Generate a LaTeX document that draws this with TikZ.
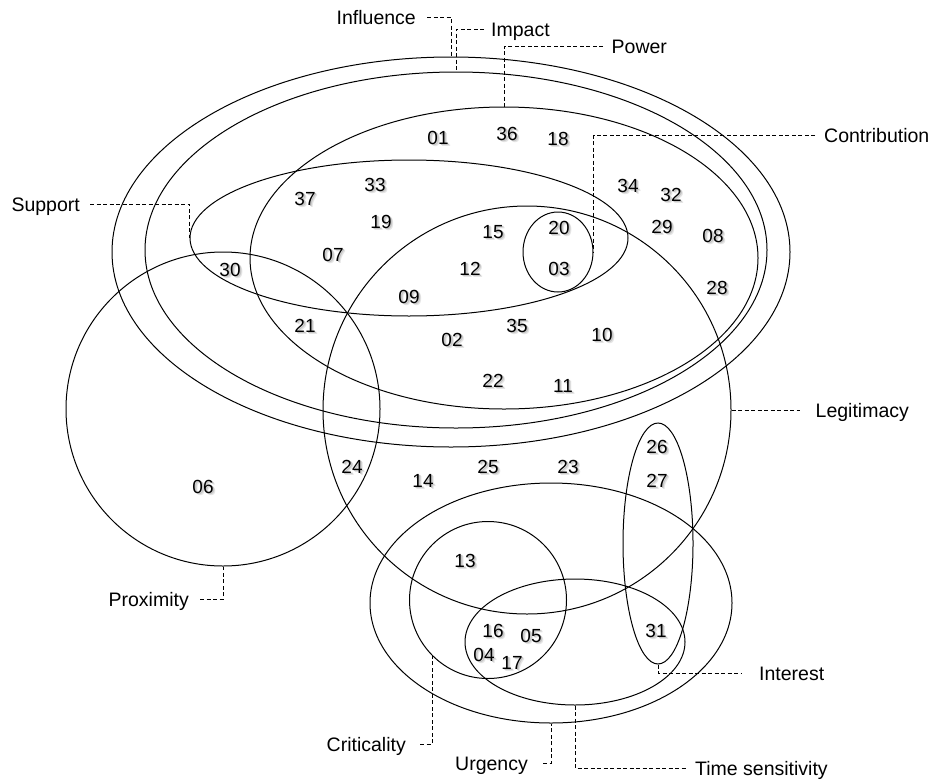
\documentclass[tikz,border=0pt]{standalone}
\usepackage{fontspec}
\setmainfont{Liberation Sans}
\usetikzlibrary{shapes.geometric}
\tikzset{
  setshape/.style={draw, ellipse, inner sep=0pt, line width=1pt},
  leader/.style={line width=0.8pt, dash pattern=on 4pt off 2.5pt},
  lab/.style={font=\fontsize{19.5}{22}\selectfont, inner ysep=0pt, text height=14pt, text depth=0pt},
  num/.style={font=\fontsize{19}{22}\selectfont, inner sep=0pt},
}
\newcommand{\shadowtxt}[1]{%
  \makebox[0pt][l]{\hspace{2.6pt}\raisebox{-2.6pt}{\textcolor{black!10}{#1}}}%
  \makebox[0pt][l]{\hspace{1.6pt}\raisebox{-1.6pt}{\textcolor{black!22}{#1}}}%
  #1}
\newcommand{\stnum}[4]{%
  \node[num] (n#1) at (#2,#3) {\shadowtxt{#4}};}
\begin{document}
\begin{tikzpicture}[x=1pt,y=-1pt]
\fill[white] (0,0) rectangle (933,779);
\useasboundingbox (0,0) rectangle (933,779);

% sets
\node[setshape, minimum width=678pt, minimum height=390pt] (inf) at (451,252) {};
\node[setshape, minimum width=622pt, minimum height=356pt] (imp) at (456,250) {};
\node[setshape, minimum width=508pt, minimum height=302pt] (pow) at (504,258) {};
\node[setshape, minimum width=438pt, minimum height=156pt] (supp) at (409,238) {};
\node[setshape, minimum width=70pt, minimum height=80pt] (con) at (558,252) {};
\node[setshape, minimum width=408pt, minimum height=408pt] (legit) at (527,410) {};
\node[setshape, minimum width=314pt, minimum height=314pt] (prox) at (223,409) {};
\node[setshape, minimum width=362pt, minimum height=240pt] (urg) at (551,603) {};
\node[setshape, minimum width=157pt, minimum height=157pt] (crit) at (488,600) {};
\node[setshape, minimum width=220pt, minimum height=126pt] (time) at (575,642) {};
\node[setshape, minimum width=70pt, minimum height=241pt] (intr) at (658,543.5) {};

% labels
\node[lab, anchor=east, inner xsep=11pt] (lInf) at (427,17) {Influence};
\node[lab, anchor=west, inner xsep=7pt] (lImp) at (484,29) {Impact};
\node[lab, anchor=west, inner xsep=8.5pt] (lPow) at (603,46) {Power};
\node[lab, anchor=west, inner xsep=9pt] (lCon) at (815,135) {Contribution};
\node[lab, anchor=east, inner xsep=10pt] (lSup) at (90,204) {Support};
\node[lab, anchor=west, inner xsep=15.5pt] (lLeg) at (800,410) {Legitimacy};
\node[lab, anchor=west, inner xsep=17pt] (lInt) at (742,673) {Interest};
\node[lab, anchor=east, inner xsep=11pt] (lProx) at (200,599) {Proximity};
\node[lab, anchor=east, inner xsep=14pt] (lCrit) at (420,744) {Criticality};
\node[lab, anchor=east, inner xsep=15pt] (lUrg) at (543,763) {Urgency};
\node[lab, anchor=west, inner xsep=8pt] (lTime) at (687,768) {Time sensitivity};

% leaders
\draw[leader] (lInf.east) -| (inf.north);
\draw[leader] (lImp.west) -| (imp.north);
\draw[leader] (lPow.west) -| (pow.north);
\draw[leader] (lCon.west) -| (con.east);
\draw[leader] (lSup.east) -| (supp.west);
\draw[leader] (legit.east) -- (lLeg.west);
\draw[leader] (intr.south) |- (lInt.west);
\draw[leader] (lProx.east) -| (prox.south);
\draw[leader] (lCrit.east) -| (crit.225);
\draw[leader] (lUrg.east) -| (urg.south);
\draw[leader] (time.south) |- (lTime.west);

% members
\stnum{01}{438}{139}{01}
\stnum{36}{507}{135}{36}
\stnum{18}{558}{140}{18}
\stnum{34}{628}{187}{34}
\stnum{32}{671}{196}{32}
\stnum{37}{305}{200}{37}
\stnum{33}{375}{186}{33}
\stnum{19}{381}{223}{19}
\stnum{07}{333}{256}{07}
\stnum{15}{493}{233}{15}
\stnum{20}{559}{229}{20}
\stnum{29}{662}{228}{29}
\stnum{08}{713}{237}{08}
\stnum{30}{230}{271}{30}
\stnum{12}{470}{270}{12}
\stnum{03}{559}{270}{03}
\stnum{28}{717}{289}{28}
\stnum{09}{409}{298}{09}
\stnum{21}{305}{327}{21}
\stnum{02}{452}{341}{02}
\stnum{35}{517}{327}{35}
\stnum{10}{602}{336}{10}
\stnum{22}{493}{382}{22}
\stnum{11}{563}{387}{11}
\stnum{06}{203}{488}{06}
\stnum{24}{352}{468}{24}
\stnum{14}{423}{482}{14}
\stnum{25}{488}{468}{25}
\stnum{23}{568}{468}{23}
\stnum{26}{657}{448}{26}
\stnum{27}{657}{482}{27}
\stnum{13}{465}{562}{13}
\stnum{16}{493}{632}{16}
\stnum{05}{531}{637}{05}
\stnum{04}{484}{656}{04}
\stnum{17}{512}{664}{17}
\stnum{31}{656}{632}{31}
\end{tikzpicture}
\end{document}
